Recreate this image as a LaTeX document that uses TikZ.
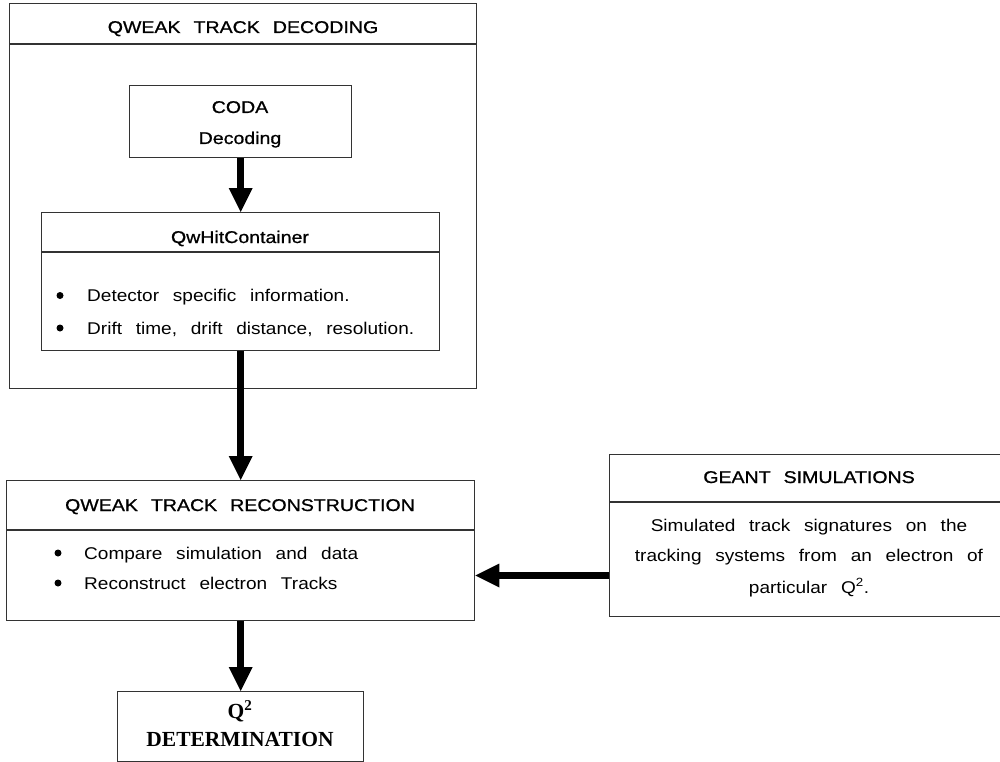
\documentclass[tikz,border=0pt]{standalone}
\usepackage{fontspec}
\usetikzlibrary{arrows.meta}
\setmainfont{Liberation Serif}
\newfontfamily\bodyf[FakeStretch=1.12,WordSpace=2.6]{Liberation Sans}
\newfontfamily\headf[FakeStretch=1.15,WordSpace=2.4,FakeBold=0.9]{Liberation Sans}
\tikzset{
  box/.style={draw=black!80, line width=1.3pt, inner sep=0pt, anchor=north west},
  sepline/.style={draw=black!80, line width=1.3pt},
  headtxt/.style={inner sep=0pt, anchor=base, font=\headf\fontsize{17}{20}\selectfont},
  bodytxt/.style={inner sep=0pt, anchor=base west, font=\bodyf\fontsize{17}{20}\selectfont},
  centtxt/.style={inner sep=0pt, anchor=base, font=\bodyf\fontsize{17}{20}\selectfont},
  bul/.style={circle, fill=black, inner sep=0pt, minimum size=7pt},
  sertxt/.style={inner sep=0pt, anchor=base, font=\bfseries\fontsize{21.5}{24}\selectfont},
  bigarrow/.style={line width=7pt, black, -{Triangle[length=24pt,width=24pt,line width=0pt]}},
}
\begin{document}
\begin{tikzpicture}[x=1pt,y=-1pt]
\useasboundingbox (0,0) rectangle (1000,762);
\clip (0,0) rectangle (1000,762);
\fill[white] (0,0) rectangle (1000,762);

% helper coordinates for horizontal rules
\coordinate (h1) at (0,44);
\coordinate (h2) at (0,252);
\coordinate (h3) at (0,530);
\coordinate (h4) at (0,502);
\coordinate (ar) at (0,575.5);

% QWEAK TRACK DECODING outer box
\node[box, minimum width=467pt, minimum height=385pt] (dec) at (9,3) {};
\draw[sepline] (dec.west |- h1) -- (dec.east |- h1);
\node[headtxt] (dect) at (243,33) {QWEAK TRACK DECODING};

% CODA box
\node[box, minimum width=222pt, minimum height=72pt] (coda) at (129,85) {};
\node[headtxt] (coda1) at (240,113) {CODA};
\node[headtxt] (coda2) at (240,144) {Decoding};

% QwHitContainer box
\node[box, minimum width=398pt, minimum height=138pt] (qw) at (41,212) {};
\draw[sepline] (qw.west |- h2) -- (qw.east |- h2);
\node[headtxt] (qwt) at (240,243) {QwHitContainer};
\node[bul] (qb1) at (60,295.5) {};
\node[bodytxt] (qw1) at (87,301) {Detector specific information.};
\node[bul] (qb2) at (60,328) {};
\node[bodytxt] (qw2) at (87,334) {Drift time, drift distance, resolution.};

% QWEAK TRACK RECONSTRUCTION box
\node[box, minimum width=468pt, minimum height=140pt] (rec) at (6,480) {};
\draw[sepline] (rec.west |- h3) -- (rec.east |- h3);
\node[headtxt] (rect) at (240,511) {QWEAK TRACK RECONSTRUCTION};
\node[bul] (rb1) at (58,553) {};
\node[bodytxt] (rec1) at (84,559) {Compare simulation and data};
\node[bul] (rb2) at (58,583) {};
\node[bodytxt] (rec2) at (84,589) {Reconstruct electron Tracks};

% Q^2 DETERMINATION box
\node[box, minimum width=246pt, minimum height=70pt] (q2) at (117,691) {};
\node[sertxt] (q2a) at (240,718) {Q\textsuperscript{2}};
\node[sertxt] (q2b) at (240,746) {DETERMINATION};

% GEANT SIMULATIONS box
\node[box, minimum width=402pt, minimum height=162pt] (geant) at (609,454) {};
\draw[sepline] (geant.west |- h4) -- (geant.east |- h4);
\node[headtxt] (geantt) at (809,483) {GEANT SIMULATIONS};
\node[centtxt] (g1) at (809,531) {Simulated track signatures on the};
\node[centtxt] (g2) at (809,561) {tracking systems from an electron of};
\node[centtxt] (g3) at (809,593) {particular Q\textsuperscript{2}.};

% connectors
\draw[bigarrow] (coda.south) -- (qw.north);
\draw[bigarrow] (qw.south) -- (rec.north);
\draw[bigarrow] (rec.south) -- (q2.north);
\draw[bigarrow] (geant.west |- ar) -- (rec.east |- ar);
\end{tikzpicture}
\end{document}
